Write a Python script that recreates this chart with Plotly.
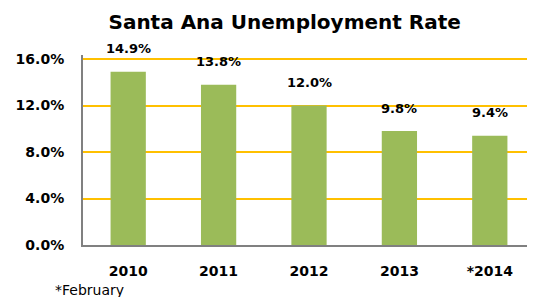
import plotly.graph_objects as go

years = ["2010", "2011", "2012", "2013", "*2014"]
rates = [14.9, 13.8, 12.0, 9.8, 9.4]
labels = ["14.9%", "13.8%", "12.0%", "9.8%", "9.4%"]
tick_vals = [0, 4, 8, 12, 16]
tick_text = ["0.0%", "4.0%", "8.0%", "12.0%", "16.0%"]

FONT = "DejaVu Sans"

fig = go.Figure()
fig.add_trace(go.Bar(x=years, y=rates, marker=dict(color="#9BBB59", line=dict(width=0)),
                     hoverinfo="skip"))

for i, (v, t) in enumerate(zip(rates, labels)):
    fig.add_annotation(x=i, y=v, text="<b>%s</b>" % t, showarrow=False, yshift=23,
                       font=dict(family=FONT, size=13, color="black"))

fig.add_annotation(xref="paper", yref="paper", x=-0.066, y=-0.185, xanchor="left", yanchor="top",
                   text="*February", showarrow=False, font=dict(family=FONT, size=14, color="black"))

# page body adds an 8px offset; size the figure so it fills the 535x297 window
fig.update_layout(
    width=527, height=289,
    margin=dict(l=75, r=0, t=47, b=52),
    paper_bgcolor="white", plot_bgcolor="white",
    title=dict(text="<b>Santa Ana Unemployment Rate</b>", x=0.525, xanchor="center",
               y=0.952, yanchor="middle", font=dict(family=FONT, size=20, color="black")),
    bargap=0.61,
    showlegend=False,
    xaxis=dict(type="category", range=[-0.5, len(years) - 0.5], showline=True,
               linecolor="#808080", linewidth=2, showgrid=False,
               tickfont=dict(family=FONT, size=14, color="black"), ticklabelstandoff=12,
               tickprefix="<b>", ticksuffix="</b>"),
    yaxis=dict(range=[0, 16.35], tickvals=tick_vals, ticktext=["<b>%s</b>" % t for t in tick_text],
               showline=True, linecolor="#808080", linewidth=2,
               showgrid=True, gridcolor="#FFC000", gridwidth=2, zeroline=False,
               tickfont=dict(family=FONT, size=14, color="black"), ticklabelstandoff=14),
)

fig.write_html("out.html")
